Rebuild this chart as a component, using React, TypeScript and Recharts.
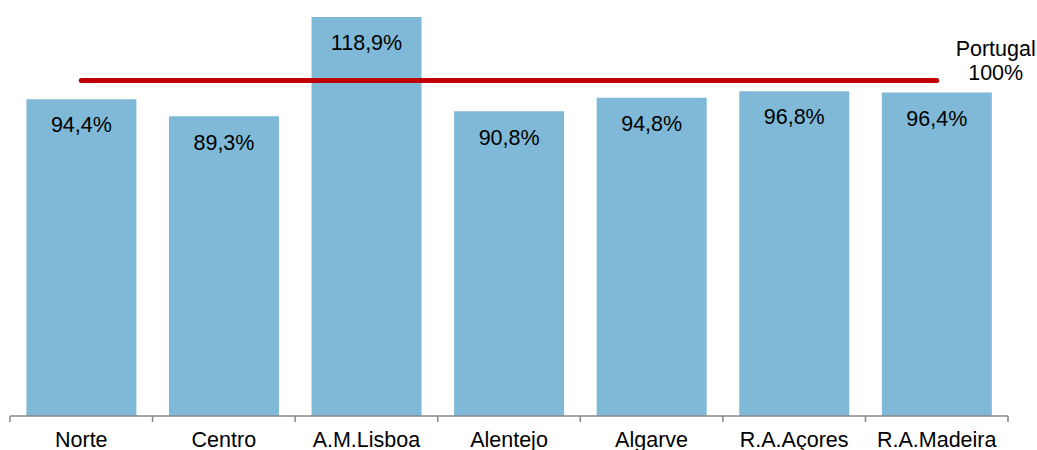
import React from 'react';
import { ComposedChart, Bar, Line, XAxis, YAxis, LabelList } from 'recharts';

const regions = ['Norte', 'Centro', 'A.M.Lisboa', 'Alentejo', 'Algarve', 'R.A.Açores', 'R.A.Madeira'];
const indexValues = [94.4, 89.3, 118.9, 90.8, 94.8, 96.8, 96.4];
const portugalValues = [100, 100, 100, 100, 100, 100, 100];
const portugalLabel = ['Portugal', '100%'];

const data = regions.map((name, i) => ({
  name,
  value: indexValues[i],
  portugal: portugalValues[i],
}));

const W = 1037;
const H = 450;
const M = { top: 17, left: 10, right: 29, bottom: 0 };
const band = (W - M.left - M.right) / regions.length;
const FONT = '"Liberation Sans", Arial, sans-serif';
const FS = 21.5;

const fmt = (v: number) => v.toFixed(1).replace('.', ',') + '%';

const RegionTick = (props: any) => {
  const { x, y, payload, index } = props;
  const last = index === regions.length - 1;
  return (
    <g>
      <line x1={x - band / 2} x2={x - band / 2} y1={y} y2={y + 6} stroke="#888" strokeWidth={1.5} />
      {last && <line x1={x + band / 2} x2={x + band / 2} y1={y} y2={y + 6} stroke="#888" strokeWidth={1.5} />}
      <text x={x} y={y + 31} textAnchor="middle" fontSize={FS} fill="#000" fontFamily={FONT}>
        {payload.value}
      </text>
    </g>
  );
};

const PortugalLabel = (props: any) => {
  const { x, y, index } = props;
  if (index !== regions.length - 1) return null;
  return (
    <text x={x + 59} textAnchor="middle" fontSize={FS} fill="#000" fontFamily={FONT}>
      <tspan x={x + 59} y={y - 24}>{portugalLabel[0]}</tspan>
      <tspan x={x + 59} y={y}>{portugalLabel[1]}</tspan>
    </text>
  );
};

export default function App() {
  return (
    <div style={{ position: 'absolute', left: 0, top: 0, width: W, height: H, background: '#fff' }}>
      <ComposedChart width={W} height={H} data={data} margin={M} barCategoryGap="11.5%">
        <XAxis
          dataKey="name"
          height={34}
          tickLine={false}
          tickSize={0}
          tickMargin={0}
          interval={0}
          axisLine={{ stroke: '#888', strokeWidth: 1.5 }}
          tick={<RegionTick />}
        />
        <YAxis hide domain={[0, 'dataMax']} />
        <Bar dataKey="value" fill="#7FB9D7" isAnimationActive={false}>
          <LabelList
            dataKey="value"
            position="insideTop"
            offset={18}
            formatter={(v: any) => fmt(Number(v))}
            style={{ fontSize: FS, fill: '#000', fontFamily: FONT }}
          />
        </Bar>
        <Line
          dataKey="portugal"
          stroke="#C00000"
          strokeWidth={5}
          strokeLinecap="round"
          dot={false}
          activeDot={false}
          isAnimationActive={false}
          label={<PortugalLabel />}
        />
      </ComposedChart>
    </div>
  );
}
